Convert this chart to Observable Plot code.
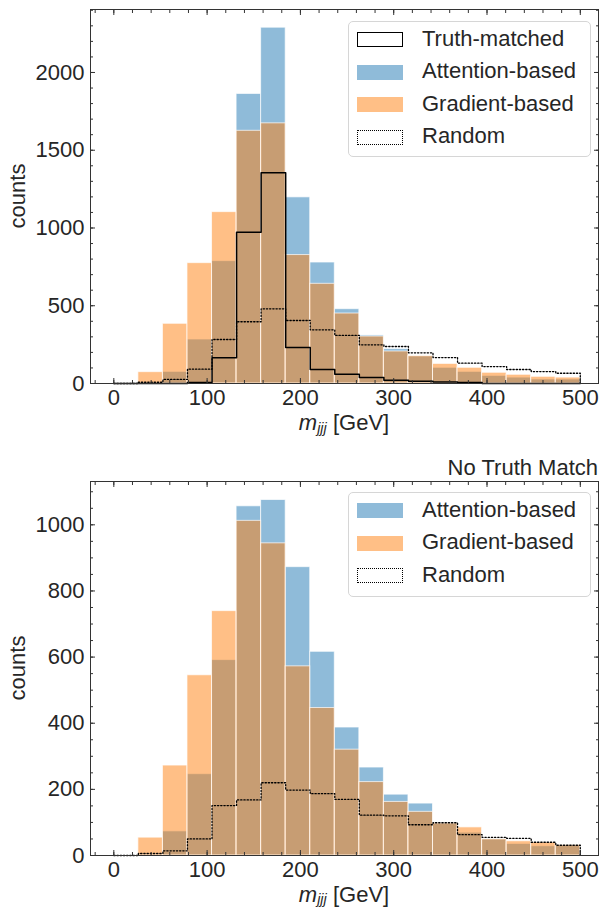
<!DOCTYPE html>
<html><head><meta charset="utf-8">
<script src="https://cdn.jsdelivr.net/npm/d3@7"></script>
<script src="https://cdn.jsdelivr.net/npm/@observablehq/plot@0.6"></script>
<style>
body{margin:0;background:#fff;font-family:"Liberation Sans",Arial,sans-serif;color:#262626;}
#wrap{position:relative;width:602px;height:907px;overflow:hidden;}
#wrap svg{display:block;}
.legend{position:absolute;box-sizing:border-box;border:1px solid #d6d6d6;border-radius:5px;background:rgba(255,255,255,0.85);}
.lg-row{position:absolute;left:0;height:0;}
.lg-patch{position:absolute;left:8px;width:46px;height:15px;box-sizing:border-box;}
.lg-text{position:absolute;left:73px;font-size:22px;line-height:22px;white-space:nowrap;color:#262626;}
</style></head><body><div id="wrap"></div>
<script>
// ---- data ----
const binEdges = [0, 26.32, 52.63, 78.95, 105.26, 131.58, 157.89, 184.21, 210.53, 236.84, 263.16, 289.47, 315.79, 342.11, 368.42, 394.74, 421.05, 447.37, 473.68, 500];
const xMajorTicks = [0, 100, 200, 300, 400, 500];

// top panel (truth-matched events)
const topTruth     = [0, 0, 0, 6, 165, 972, 1355, 231, 90, 60, 38, 21, 15, 10, 7, 0, 0, 0, 0];
const topAttention = [0, 3, 75, 283, 787, 1862, 2288, 1197, 778, 478, 309, 221, 174, 101, 75, 49, 38, 26, 26];
const topGradient  = [0, 73, 384, 774, 1102, 1625, 1673, 826, 641, 450, 302, 206, 176, 126, 101, 69, 56, 43, 38];
const topRandom    = [0, 8, 26, 92, 283, 397, 480, 405, 345, 309, 249, 238, 197, 167, 131, 109, 90, 77, 66];
const topYTicks = [0, 500, 1000, 1500, 2000];

// bottom panel (no truth match)
const botAttention = [0, 3, 73, 246, 591, 1056, 1075, 872, 616, 387, 266, 184, 157, 97, 69, 49, 35, 28, 31];
const botGradient  = [0, 54, 272, 545, 739, 1012, 944, 572, 446, 320, 222, 162, 132, 97, 85, 49, 43, 39, 31];
const botRandom    = [0, 6, 14, 50, 151, 168, 220, 198, 187, 170, 122, 120, 93, 99, 63, 55, 52, 40, 31];
const botYTicks = [0, 200, 400, 600, 800, 1000];

const legendTop = ["Truth-matched", "Attention-based", "Gradient-based", "Random"];
const legendBot = ["Attention-based", "Gradient-based", "Random"];
const panelTitle = "No Truth Match";

// ---- helpers ----
const FONT = "Liberation Sans, Arial, sans-serif";
const TEXT = "#262626";
const blue = "#1f77b4", orange = "#ff7f0e";

function bars(vals){ return vals.map((v,i)=>({x1:binEdges[i], x2:binEdges[i+1], y:v})); }
function stepPts(vals){
  const pts=[{x:binEdges[0], y:0}];
  vals.forEach((v,i)=>pts.push({x:binEdges[i], y:v}));
  pts.push({x:binEdges[vals.length], y:0});
  return pts;
}
function range(a,b,s){ const r=[]; for(let v=a; v<=b+1e-9; v+=s) r.push(v); return r; }

function makePanel({height, marginTop, marginBottom, yDomain, yMajor, yMinorStep, truth, att, grad, rnd}){
  const xDomain=[-25, 519.5];
  const xMinor = range(-20, 500, 20);
  const yMinor = range(0, yDomain[1], yMinorStep);
  const blank = () => "";
  const tickStyle = {stroke:"#333", strokeWidth:1};
  const marks = [
    Plot.rectY(bars(att), {x1:"x1", x2:"x2", y:"y", fill:blue, fillOpacity:0.5, stroke:"white", strokeWidth:1, strokeOpacity:0.7}),
    Plot.rectY(bars(grad), {x1:"x1", x2:"x2", y:"y", fill:orange, fillOpacity:0.5, stroke:"white", strokeWidth:1, strokeOpacity:0.7}),
  ];
  if (truth) marks.push(Plot.line(stepPts(truth), {x:"x", y:"y", curve:"step-after", stroke:"black", strokeWidth:1.5}));
  marks.push(Plot.line(stepPts(rnd), {x:"x", y:"y", curve:"step-after", stroke:"black", strokeWidth:1.3, strokeDasharray:"1.3,1.9"}));
  marks.push(
    Plot.frame({stroke:"#333", strokeWidth:1}),
    // labels
    Plot.axisX({ticks:xMajorTicks, anchor:"bottom", tickSize:0, tickPadding:6, tickFormat:d=>String(d), fontSize:22, label:null}),
    Plot.axisY({ticks:yMajor, anchor:"left", tickSize:0, tickPadding:6, tickFormat:d=>String(d), fontSize:22, label:null}),
    // inward major ticks
    Plot.axisX({ticks:xMajorTicks, anchor:"bottom", tickSize:5, dy:-5, tickFormat:blank, label:null, ...tickStyle}),
    Plot.axisX({ticks:xMajorTicks, anchor:"top", tickSize:5, dy:5, tickFormat:blank, label:null, ...tickStyle}),
    Plot.axisY({ticks:yMajor, anchor:"left", tickSize:5, dx:5, tickFormat:blank, label:null, ...tickStyle}),
    Plot.axisY({ticks:yMajor, anchor:"right", tickSize:5, dx:-5, tickFormat:blank, label:null, ...tickStyle}),
    // inward minor ticks
    Plot.axisX({ticks:xMinor, anchor:"bottom", tickSize:3, dy:-3, tickFormat:blank, label:null, ...tickStyle}),
    Plot.axisX({ticks:xMinor, anchor:"top", tickSize:3, dy:3, tickFormat:blank, label:null, ...tickStyle}),
    Plot.axisY({ticks:yMinor, anchor:"left", tickSize:3, dx:3, tickFormat:blank, label:null, ...tickStyle}),
    Plot.axisY({ticks:yMinor, anchor:"right", tickSize:3, dx:-3, tickFormat:blank, label:null, ...tickStyle})
  );
  return Plot.plot({
    width:602, height, marginLeft:90, marginRight:4, marginTop, marginBottom,
    x:{domain:xDomain},
    y:{domain:yDomain},
    style:{fontFamily:FONT, fontSize:"22px", color:TEXT, background:"white"},
    marks
  });
}

function addLabels(svg, {xBaseline, countsY}){
  const s = d3.select(svg);
  const t = s.append("text").attr("x", 344).attr("y", xBaseline).attr("text-anchor","middle")
    .attr("font-family", FONT).attr("font-size", 22).attr("fill", TEXT);
  t.append("tspan").attr("font-style","italic").text("m");
  t.append("tspan").attr("font-style","italic").attr("font-size",14.5).attr("dy",2.5).text("jjj");
  t.append("tspan").attr("dy",-2.5).text(" [GeV]");
  s.append("text").attr("transform", `translate(25,${countsY}) rotate(-90)`).attr("text-anchor","middle")
    .attr("font-family", FONT).attr("font-size", 22).attr("fill", TEXT).text("counts");
}

function legendStyle(name){
  if (name==="Truth-matched") return "background:#fff;border:1.3px solid #000;";
  if (name==="Attention-based") return "background:rgba(31,119,180,0.5);";
  if (name==="Gradient-based") return "background:rgba(255,127,14,0.5);";
  return "background:#fff;border:1.3px dotted #000;";
}
function addLegend(wrap, names, left, top, width, height, rowTop, rowStep){
  const box = document.createElement("div");
  box.className = "legend";
  box.style.cssText += `left:${left}px;top:${top}px;width:${width}px;height:${height}px;`;
  names.forEach((n,i)=>{
    const row = document.createElement("div");
    row.className = "lg-row";
    row.style.top = (rowTop + i*rowStep) + "px";
    const p = document.createElement("div");
    p.className = "lg-patch"; p.style.cssText += legendStyle(n) + "top:-7.5px;";
    const tx = document.createElement("div");
    tx.className = "lg-text"; tx.textContent = n; tx.style.top = "-12px";
    row.appendChild(p); row.appendChild(tx);
    box.appendChild(row);
  });
  wrap.appendChild(box);
}

const wrap = document.getElementById("wrap");
const top1 = makePanel({height:440, marginTop:9, marginBottom:57, yDomain:[0, 2405], yMajor:topYTicks, yMinorStep:100,
  truth:topTruth, att:topAttention, grad:topGradient, rnd:topRandom});
addLabels(top1, {xBaseline:430, countsY:196});
wrap.appendChild(top1);

const bot = makePanel({height:467, marginTop:41, marginBottom:52, yDomain:[0, 1131], yMajor:botYTicks, yMinorStep:50,
  truth:null, att:botAttention, grad:botGradient, rnd:botRandom});
addLabels(bot, {xBaseline:461.5, countsY:228});
d3.select(bot).append("text").attr("x", 598).attr("y", 34.5).attr("text-anchor","end")
  .attr("font-family", FONT).attr("font-size", 22).attr("fill", TEXT).text(panelTitle);
wrap.appendChild(bot);

addLegend(wrap, legendTop, 348, 21, 243, 136, 17.5, 32.5);
addLegend(wrap, legendBot, 348, 492, 243, 105, 17.5, 32.5);
</script></body></html>
